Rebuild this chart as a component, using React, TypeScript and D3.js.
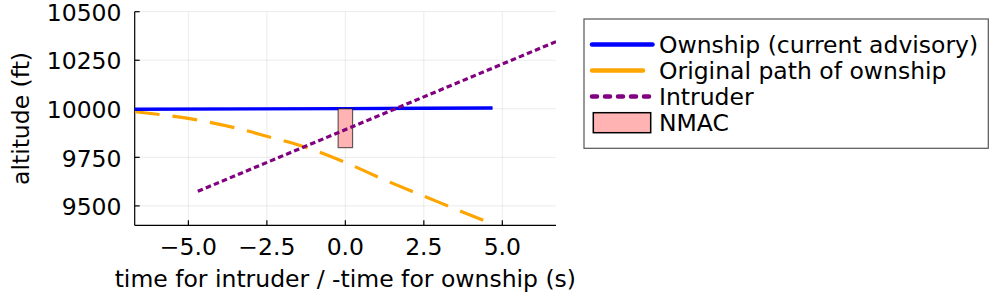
import React from 'react';
import * as d3 from 'd3';

// values
const ownshipTime = [-6.71, -3.0, 0.0, 2.5, 4.69];
const ownshipAlt = [9998, 9999.5, 10001, 10002.5, 10004];

const originalTime = [-6.71, -4.73, -3.51, -2.29, -1.44, 0.04, 1.16, 2.32, 3.49, 4.66];
const originalAlt = [9985, 9943, 9902, 9849, 9811, 9721, 9640, 9562, 9485, 9408];

const intruderTime = [-4.7, 6.71];
const intruderAlt = [9575, 10346];

const nmacTime = [-0.23, 0.23];
const nmacAlt = [9800, 10000];

const xTicks = [-5, -2.5, 0, 2.5, 5];
const yTicks = [9500, 9750, 10000, 10250, 10500];

const legendLabels = ['Ownship (current advisory)', 'Original path of ownship', 'Intruder', 'NMAC'];

const W = 1000;
const H = 300;
const plot = { left: 134.7, right: 556, top: 11.7, bottom: 225.3 };
const FONT = 'DejaVu Sans';
const FS = 23.5;

const App = () => {
  const x = d3.scaleLinear().domain([-6.71, 6.71]).range([plot.left, plot.right]);
  const y = d3.scaleLinear().domain([9400, 10500]).range([plot.bottom, plot.top]);

  const line = d3.line<[number, number]>()
    .x(d => x(d[0]))
    .y(d => y(d[1]));
  const smooth = d3.line<[number, number]>()
    .x(d => x(d[0]))
    .y(d => y(d[1]))
    .curve(d3.curveMonotoneX);

  const zip = (a: number[], b: number[]) => a.map((v, i) => [v, b[i]] as [number, number]);

  const minus = (v: number) => d3.format('.1f')(v).replace('-', '\u2212');

  // legend layout
  const lg = { x: 584, y: 19, w: 404.3, h: 129.3 };
  const rowY = [44.5, 70.5, 96.5, 122.5];

  return (
    <svg width={W} height={H} style={{ position: 'absolute', left: 0, top: 0, background: '#fff' }}
      fontFamily={FONT}>
      <defs>
        <clipPath id="plotclip">
          <rect x={plot.left} y={plot.top} width={plot.right - plot.left} height={plot.bottom - plot.top} />
        </clipPath>
      </defs>

      {/* grid */}
      <g stroke="#000" strokeOpacity={0.08} strokeWidth={1}>
        {xTicks.map(t => (
          <line key={'gx' + t} x1={x(t)} x2={x(t)} y1={plot.top} y2={plot.bottom} />
        ))}
        {yTicks.map(t => (
          <line key={'gy' + t} x1={plot.left} x2={plot.right} y1={y(t)} y2={y(t)} />
        ))}
      </g>

      {/* axes */}
      <g stroke="#000" strokeWidth={1.2}>
        <line x1={plot.left} x2={plot.left} y1={plot.top} y2={plot.bottom} />
        <line x1={plot.left} x2={plot.right} y1={plot.bottom} y2={plot.bottom} />
        {xTicks.map(t => (
          <line key={'tx' + t} x1={x(t)} x2={x(t)} y1={plot.bottom} y2={plot.bottom - 5} />
        ))}
        {yTicks.map(t => (
          <line key={'ty' + t} x1={plot.left} x2={plot.left + 5} y1={y(t)} y2={y(t)} />
        ))}
      </g>

      {/* tick labels */}
      <g fontSize={FS} fill="#000">
        {xTicks.map(t => (
          <text key={'lx' + t} x={x(t)} y={255} textAnchor="middle">{minus(t)}</text>
        ))}
        {yTicks.map(t => (
          <text key={'ly' + t} x={121.5} y={y(t) + 9.2} textAnchor="end">{t}</text>
        ))}
      </g>

      {/* axis titles */}
      <text x={(plot.left + plot.right) / 2} y={287} textAnchor="middle" fontSize={FS}>
        time for intruder / -time for ownship (s)
      </text>
      <text transform={`translate(29,${(plot.top + plot.bottom) / 2}) rotate(-90)`} textAnchor="middle" fontSize={FS}>
        altitude (ft)
      </text>

      {/* series */}
      <g clipPath="url(#plotclip)" fill="none">
        <path d={smooth(zip(originalTime, originalAlt)) || ''} stroke="#ffa500" strokeWidth={3.2}
          strokeDasharray="25 13" />
        <path d={line(zip(ownshipTime, ownshipAlt)) || ''} stroke="#0000ff" strokeWidth={3.4} />
        <rect x={x(nmacTime[0])} y={y(nmacAlt[1])} width={x(nmacTime[1]) - x(nmacTime[0])}
          height={y(nmacAlt[0]) - y(nmacAlt[1])} fill="#ffb3b3" stroke="#000" strokeOpacity={0.6} strokeWidth={1.2} />
        <path d={line(zip(intruderTime, intruderAlt)) || ''} stroke="#800080" strokeWidth={3.2}
          strokeDasharray="5.5 3.2" />
      </g>

      {/* legend */}
      <rect x={lg.x} y={lg.y} width={lg.w} height={lg.h} fill="#fff" stroke="#555" strokeWidth={1.2} />
      <line x1={592} x2={652.5} y1={rowY[0]} y2={rowY[0]} stroke="#0000ff" strokeWidth={4.5} strokeLinecap="round" />
      <line x1={592} x2={643} y1={rowY[1]} y2={rowY[1]} stroke="#ffa500" strokeWidth={4.5} strokeLinecap="round" />
      <line x1={592} x2={652.5} y1={rowY[2]} y2={rowY[2]} stroke="#800080" strokeWidth={4.5}
        strokeLinecap="round" strokeDasharray="5 8" />
      <rect x={593.3} y={112.7} width={57.4} height={20} fill="#ffb3b3" stroke="#000" strokeWidth={1.5} />
      <g fontSize={FS} fill="#000">
        {legendLabels.map((l, i) => (
          <text key={l} x={659} y={rowY[i] + 8.5}>{l}</text>
        ))}
      </g>
    </svg>
  );
};

export default App;
